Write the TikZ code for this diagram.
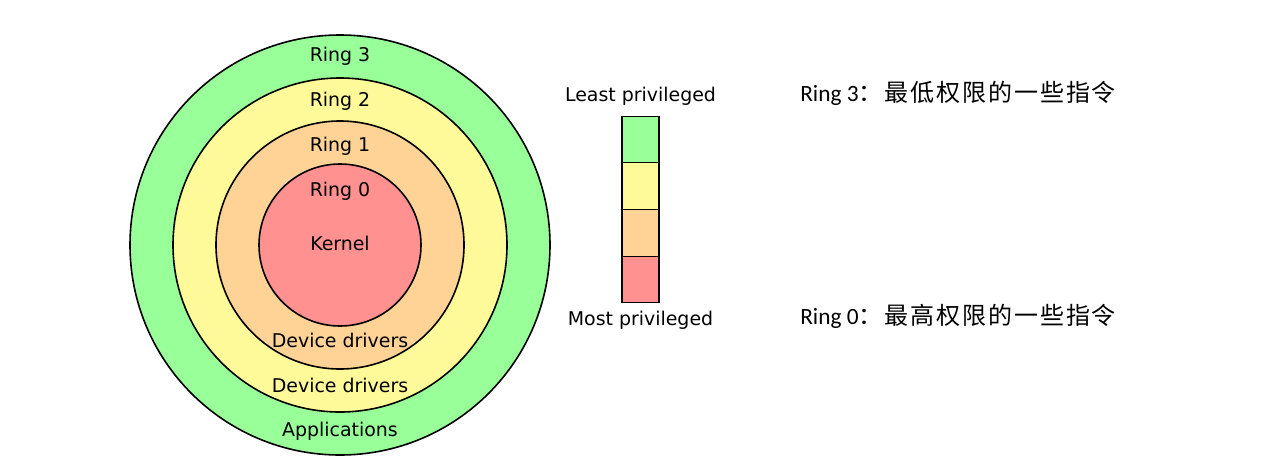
\documentclass[tikz,border=0pt]{standalone}
\usepackage{fontspec}
\setmainfont{DejaVu Sans}
\newfontfamily\notefont{Carlito}
\newfontfamily\cjk[LetterSpace=8]{Noto Sans CJK SC}
\usetikzlibrary{positioning}
\definecolor{ringgreen}{RGB}{153,255,153}
\definecolor{ringyellow}{RGB}{255,250,153}
\definecolor{ringorange}{RGB}{255,210,150}
\definecolor{ringred}{RGB}{255,145,145}
\begin{document}
\begin{tikzpicture}[x=0.75pt, y=-0.75pt,
  ring/.style={circle, draw, line width=1.2pt, inner sep=0pt, outer sep=0pt,
               minimum size=#1},
  cell/.style={draw, line width=0.9pt, inner sep=0pt, outer sep=0pt,
               minimum width=27.75pt, minimum height=35pt, fill=#1},
  lbl/.style={font=\fontsize{14.2}{16}\selectfont, inner sep=0pt},
  note/.style={font=\fontsize{17.5}{20}\selectfont, inner sep=0pt, anchor=west},
  node distance=0pt]
\useasboundingbox (0,0) rectangle (1282,457);
% concentric rings
\node[ring=315pt, fill=ringgreen] (r3) at (340,245) {};
\node[ring=250.5pt, fill=ringyellow] (r2) at (340,245) {};
\node[ring=186pt, fill=ringorange] (r1) at (340,245) {};
\node[ring=121.5pt, fill=ringred] (r0) at (340,245) {};
\node[lbl] (r3top) at (340,56) {Ring 3};
\node[lbl] (r2top) at (340,101) {Ring 2};
\node[lbl] (r1top) at (340,146) {Ring 1};
\node[lbl] (r0top) at (340,191) {Ring 0};
\node[lbl] (kernel) at (340,243) {Kernel};
\node[lbl] (r1bot) at (340,340) {Device drivers};
\node[lbl] (r2bot) at (340,385) {Device drivers};
\node[lbl] (r3bot) at (340,431) {Applications};
% privilege bar
\node[cell=ringgreen] (c3) at (640.5,139.5) {};
\node[cell=ringyellow, below=of c3] (c2) {};
\node[cell=ringorange, below=of c2] (c1) {};
\node[cell=ringred, below=of c1] (c0) {};
\node[lbl, above=8pt of c3] (least) {Least privileged};
\node[lbl, below=6pt of c0] (most) {Most privileged};
% notes
\node[note] (n3) at (800,93) {\notefont Ring 3\cjk\fontsize{18}{22}\selectfont ：最低权限的一些指令};
\node[note] (n0) at (800,316) {\notefont Ring 0\cjk\fontsize{18}{22}\selectfont ：最高权限的一些指令};
\end{tikzpicture}
\end{document}
